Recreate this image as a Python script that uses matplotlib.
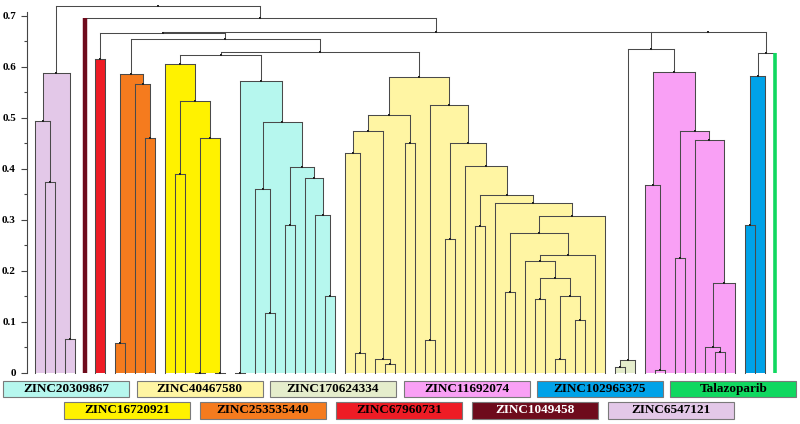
import numpy as np
import matplotlib.pyplot as plt
from matplotlib.patches import Rectangle

# clusters from left to right, as they stand in the tree
names = ['ZINC6547121', 'ZINC1049458', 'ZINC67960731', 'ZINC253535440',
         'ZINC16720921', 'ZINC20309867', 'ZINC40467580', 'ZINC170624334',
         'ZINC11692074', 'ZINC102965375', 'Talazoparib']
colors = ['#e3c8e8', '#6e0b1c', '#ee1c25', '#f57b1e', '#fff200', '#b6f7ee',
          '#fff5a3', '#e5edcc', '#f9a0f5', '#00a2e8', '#10d860']

# subtree of each cluster: [height, left, right], None is one leaf
t_lav = [0.587, [0.494, None, [0.3745, None, None]], [0.066, None, None]]
t_red = [0.6145, None, None]
t_orange = [0.586, [0.0576, None, None], [0.5655, None, [0.4596, None, None]]]
t_yellow = [0.605, None, [0.533, [0.389, None, None],
                          [0.46, [0.0, None, None], [0.0, None, None]]]]
t_cyan = [0.5725, [0.0, None, None],
          [0.491, [0.36, None, [0.118, None, None]],
           [0.404, [0.29, None, None],
            [0.382, None, [0.309, None, [0.15, None, None]]]]]]
t_pale = [0.58,
          [0.505, [0.474, [0.43, None, [0.039, None, None]],
                   [0.027, None, [0.017, None, None]]],
           [0.45, None, None]],
          [0.525, [0.065, None, None],
           [0.45, [0.263, None, None],
            [0.405, None,
             [0.348, [0.288, None, None],
              [0.332, None,
               [0.307, [0.2745, [0.158, None, None],
                        [0.231, [0.22, None,
                                 [0.185, [0.144, None, None],
                                  [0.151, [0.026, None, None], [0.103, None, None]]]],
                         None]],
                None]]]]]]]
t_gray = [0.025, [0.012, None, None], None]
t_pink = [0.59, [0.368, None, [0.0053, None, None]],
          [0.474, [0.224, None, None],
           [0.456, None, [0.175, [0.0498, None, [0.04, None, None]], None]]]]
t_blue = [0.582, [0.29, None, None], None]
trees = [t_lav, None, t_red, t_orange, t_yellow, t_cyan, t_pale, t_gray,
         t_pink, t_blue, None]

# how the clusters are joined, ints are cluster numbers
top_tree = [0.7196, 0,
            [0.695, 1,
             [0.6686,
              [0.6655, 2, [0.6537, 3, [0.628, [0.623, 4, 5], 6]]],
              [0.6675, [0.635, 7, 8], [0.627, 9, 10]]]]]

legend_row1 = ['ZINC20309867', 'ZINC40467580', 'ZINC170624334',
               'ZINC11692074', 'ZINC102965375', 'Talazoparib']
legend_row2 = ['ZINC16720921', 'ZINC253535440', 'ZINC67960731',
               'ZINC1049458', 'ZINC6547121']

links = []
count = [0]


def place(node, k):
    if isinstance(node, int):
        if trees[node] is None:
            x = count[0]
            count[0] += 1
            return x, 0.0, node
        return place(trees[node], node)
    if node is None:
        x = count[0]
        count[0] += 1
        return x, 0.0, None
    h, a, b = node
    xa, ha, sa = place(a, k)
    xb, hb, sb = place(b, k)
    links.append((xa, ha, sa, xb, hb, sb, h, k))
    return (xa + xb) / 2, h, None


place(top_tree, None)

W, H = 800, 424
fig = plt.figure(figsize=(W / 100, H / 100), dpi=100)
ax = fig.add_axes([27 / W, (H - 372.7) / H, 773 / W, 0.708 * 510 / H])
ax.set_xlim(-0.8, 76.5)
ax.set_ylim(0, 0.708)

line_c = '#4a4a4a'
for xa, ha, sa, xb, hb, sb, h, k in links:
    if k is not None and h > 0:
        ax.bar(xa, h, width=xb - xa, align='edge', color=colors[k], lw=0, zorder=1)
for xa, ha, sa, xb, hb, sb, h, k in links:
    for x, hc, s in ((xa, ha, sa), (xb, hb, sb)):
        if s is not None:
            ax.plot([x, x], [0, h], color=colors[s], lw=3.2 if s == 1 else 2.6,
                    solid_capstyle='butt', zorder=3, clip_on=False)
        else:
            ax.plot([x, x], [hc, h], color=line_c, lw=0.75, zorder=2, clip_on=False)
    ax.plot([xa, xb], [h, h], color=line_c, lw=0.75, zorder=2, clip_on=False)
    ax.plot((xa + xb) / 2, h, 's', color='#222222', ms=1.5, mew=0, zorder=4, clip_on=False)

for s in ['top', 'right', 'bottom']:
    ax.spines[s].set_visible(False)
ax.spines['left'].set_color('#444444')
ax.spines['left'].set_linewidth(0.8)
ax.set_xticks([])
ticks = np.arange(0, 0.71, 0.1)
ax.set_yticks(ticks)
ax.set_yticklabels(['0'] + ['%.1f' % t for t in ticks[1:]],
                   fontfamily='Liberation Serif', fontweight='bold', fontsize=8)
ax.set_yticks(np.arange(0.05, 0.71, 0.1), minor=True)
ax.tick_params(axis='y', which='major', length=4, width=0.8, color='#444444', pad=4)
ax.tick_params(axis='y', which='minor', length=2.5, width=0.8, color='#444444')


def box(x0, y0, name):
    k = names.index(name)
    fc = colors[k]
    fig.patches.append(Rectangle((x0 / W, 1 - (y0 + 16.8) / H), 126 / W, 16.8 / H,
                                 transform=fig.transFigure, facecolor=fc,
                                 edgecolor='#7a7a7a', lw=0.8))
    fig.text((x0 + 63) / W, 1 - (y0 + 8.6) / H, name, ha='center', va='center',
             fontfamily='Liberation Serif', fontweight='bold', fontsize=9.5,
             color='white' if k == 1 else 'black')


for i, n in enumerate(legend_row1):
    box(3.3 + 133.4 * i, 380.6, n)
for i, n in enumerate(legend_row2):
    box(64.3 + 135.8 * i, 401.8, n)

fig.savefig('out.png', dpi=100)
